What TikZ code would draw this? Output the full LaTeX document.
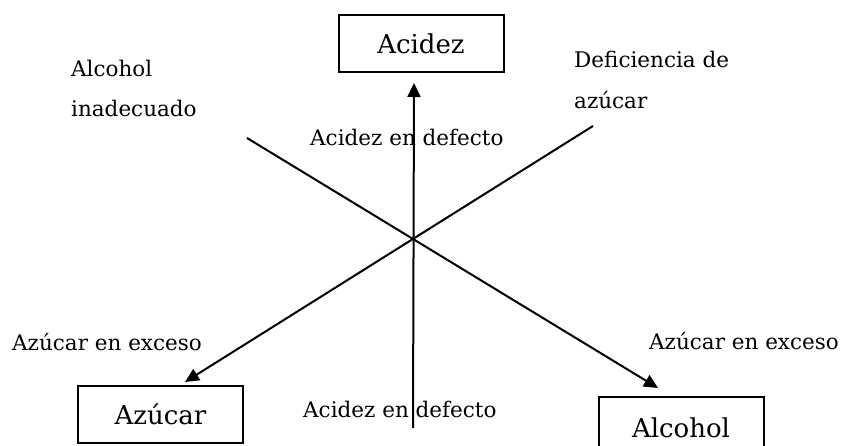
\documentclass[tikz,border=0pt]{standalone}
\usepackage{fontspec}
\setmainfont{DejaVu Serif}
\usetikzlibrary{arrows.meta}
\tikzset{
  lbl/.style={anchor=base west, inner sep=0pt, font=\fontsize{21.5}{21.5}\selectfont},
  boxnode/.style={draw, line width=2pt, minimum width=165pt, minimum height=57pt, inner sep=0pt, font=\fontsize{26}{26}\selectfont},
  conn/.style={line width=2pt},
  arr/.style={conn, -{Triangle[length=14pt,width=13pt]}}
}
\begin{document}
\begin{tikzpicture}[x=1pt,y=-1pt]
\useasboundingbox (0,0) rectangle (845,446);
% boxes
\node[boxnode] (acidez) at (421,43.5) {Acidez};
\node[boxnode] (azucar) at (160.5,414.5) {Azúcar};
\node[boxnode, minimum height=62pt] (alcohol) at (681,428) {Alcohol};
% line end points
\coordinate (ul) at (247,138);
\coordinate (ur) at (593,126);
\coordinate (bt) at (413,428);
\coordinate (tipA) at (414,83);
\coordinate (tipZ) at (185,382);
\coordinate (tipL) at (658,388);
% connectors
\draw[arr] (bt) -- (tipA);
\draw[arr] (ur) -- (tipZ);
\draw[arr] (ul) -- (tipL);
% labels
\node[lbl] (l1) at (71,77) {Alcohol};
\node[lbl] (l2) at (71,117) {inadecuado};
\node[lbl] (l3) at (574,68) {Deficiencia de};
\node[lbl] (l4) at (574,109) {azúcar};
\node[lbl] (l5) at (310,146) {Acidez en defecto};
\node[lbl] (l6) at (12,350) {Azúcar en exceso};
\node[lbl] (l7) at (649,349) {Azúcar en exceso};
\node[lbl] (l8) at (303,417) {Acidez en defecto};
\end{tikzpicture}
\end{document}
